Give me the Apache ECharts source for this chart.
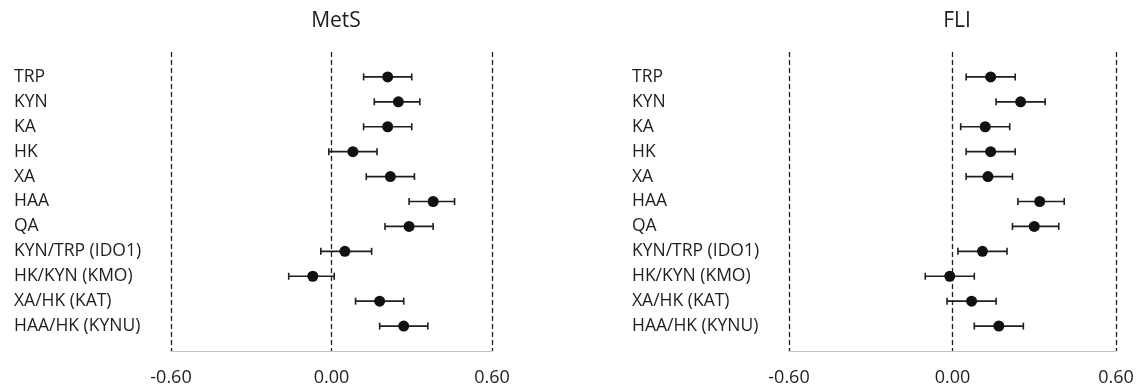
<!DOCTYPE html>
<html>
<head>
<meta charset="utf-8">
<script src="https://cdn.jsdelivr.net/npm/echarts@6/dist/echarts.min.js"></script>
<style>
  html, body { margin: 0; padding: 0; background: #fff; }
  #chart { width: 1137px; height: 391px; }
</style>
</head>
<body>
<div id="chart"></div>
<script>
// categories top to bottom
const categories = ['TRP', 'KYN', 'KA', 'HK', 'XA', 'HAA', 'QA',
  'KYN/TRP (IDO1)', 'HK/KYN (KMO)', 'XA/HK (KAT)', 'HAA/HK (KYNU)'];

// MetS estimates with lower/upper CI
const metsEst  = [0.21, 0.25, 0.21, 0.08, 0.22, 0.38, 0.29, 0.05, -0.07, 0.18, 0.27];
const metsLow  = [0.12, 0.16, 0.12, -0.01, 0.13, 0.29, 0.20, -0.04, -0.16, 0.09, 0.18];
const metsHigh = [0.30, 0.33, 0.30, 0.17, 0.31, 0.46, 0.38, 0.15, 0.01, 0.27, 0.36];

// FLI estimates with lower/upper CI
const fliEst  = [0.14, 0.25, 0.12, 0.14, 0.13, 0.32, 0.30, 0.11, -0.01, 0.07, 0.17];
const fliLow  = [0.05, 0.16, 0.03, 0.05, 0.05, 0.24, 0.22, 0.02, -0.10, -0.02, 0.08];
const fliHigh = [0.23, 0.34, 0.21, 0.23, 0.22, 0.41, 0.39, 0.20, 0.08, 0.16, 0.26];

const xTicks = [-0.6, 0, 0.6];

const FONT = '"Open Sans", sans-serif';
const n = categories.length;

function yPos(i) { return n - i; }

function ciData(low, high) {
  return low.map((l, i) => [l, high[i], yPos(i)]);
}
function ptData(est) {
  return est.map((v, i) => [v, yPos(i)]);
}

function renderCI(params, api) {
  const y = api.value(2);
  const a = api.coord([api.value(0), y]);
  const b = api.coord([api.value(1), y]);
  const h = 3.5;
  const style = { stroke: '#1e1e1e', lineWidth: 1.6 };
  return {
    type: 'group',
    children: [
      { type: 'line', shape: { x1: a[0], y1: a[1], x2: b[0], y2: b[1] }, style: style },
      { type: 'line', shape: { x1: a[0], y1: a[1] - h, x2: a[0], y2: a[1] + h }, style: style },
      { type: 'line', shape: { x1: b[0], y1: b[1] - h, x2: b[0], y2: b[1] + h }, style: style }
    ]
  };
}

function xAxis(idx) {
  return {
    type: 'value', gridIndex: idx,
    min: xTicks[0], max: xTicks[xTicks.length - 1], interval: 0.6,
    axisLine: { show: true, lineStyle: { color: '#c4c4c4', width: 1.2 } },
    axisTick: { show: false },
    axisLabel: {
      margin: 18, fontFamily: FONT, fontSize: 18, color: '#1e1e1e',
      formatter: v => v.toFixed(2)
    },
    splitLine: { show: true, lineStyle: { color: '#1e1e1e', type: [5, 3], width: 1.3 } }
  };
}

function yAxis(idx) {
  return {
    type: 'value', gridIndex: idx, min: 0, max: 12, interval: 1,
    axisLine: { show: false }, axisTick: { show: false }, splitLine: { show: false },
    axisLabel: {
      align: 'left', margin: 157, fontFamily: FONT, fontSize: 17.5, color: '#1e1e1e',
      padding: [4, 0, 0, 0],
      formatter: v => categories[n - v] || ''
    }
  };
}

const chart = echarts.init(document.getElementById('chart'));
chart.setOption({
  backgroundColor: '#ffffff',
  animation: false,
  title: [
    { text: 'MetS', left: 331, top: 6, textAlign: 'center',
      textStyle: { fontFamily: FONT, fontSize: 21, fontWeight: 'normal', color: '#1e1e1e' } },
    { text: 'FLI', left: 952, top: 6, textAlign: 'center',
      textStyle: { fontFamily: FONT, fontSize: 21, fontWeight: 'normal', color: '#1e1e1e' } }
  ],
  grid: [
    { left: 171, width: 321, top: 52, height: 299 },
    { left: 789, width: 327, top: 52, height: 299 }
  ],
  xAxis: [xAxis(0), xAxis(1)],
  yAxis: [yAxis(0), yAxis(1)],
  series: [
    { type: 'custom', xAxisIndex: 0, yAxisIndex: 0, renderItem: renderCI,
      encode: { x: [0, 1], y: 2 }, data: ciData(metsLow, metsHigh), z: 2 },
    { type: 'scatter', xAxisIndex: 0, yAxisIndex: 0, symbolSize: 11,
      itemStyle: { color: '#111111', opacity: 1 }, data: ptData(metsEst), z: 3 },
    { type: 'custom', xAxisIndex: 1, yAxisIndex: 1, renderItem: renderCI,
      encode: { x: [0, 1], y: 2 }, data: ciData(fliLow, fliHigh), z: 2 },
    { type: 'scatter', xAxisIndex: 1, yAxisIndex: 1, symbolSize: 11,
      itemStyle: { color: '#111111', opacity: 1 }, data: ptData(fliEst), z: 3 }
  ]
});
</script>
</body>
</html>
